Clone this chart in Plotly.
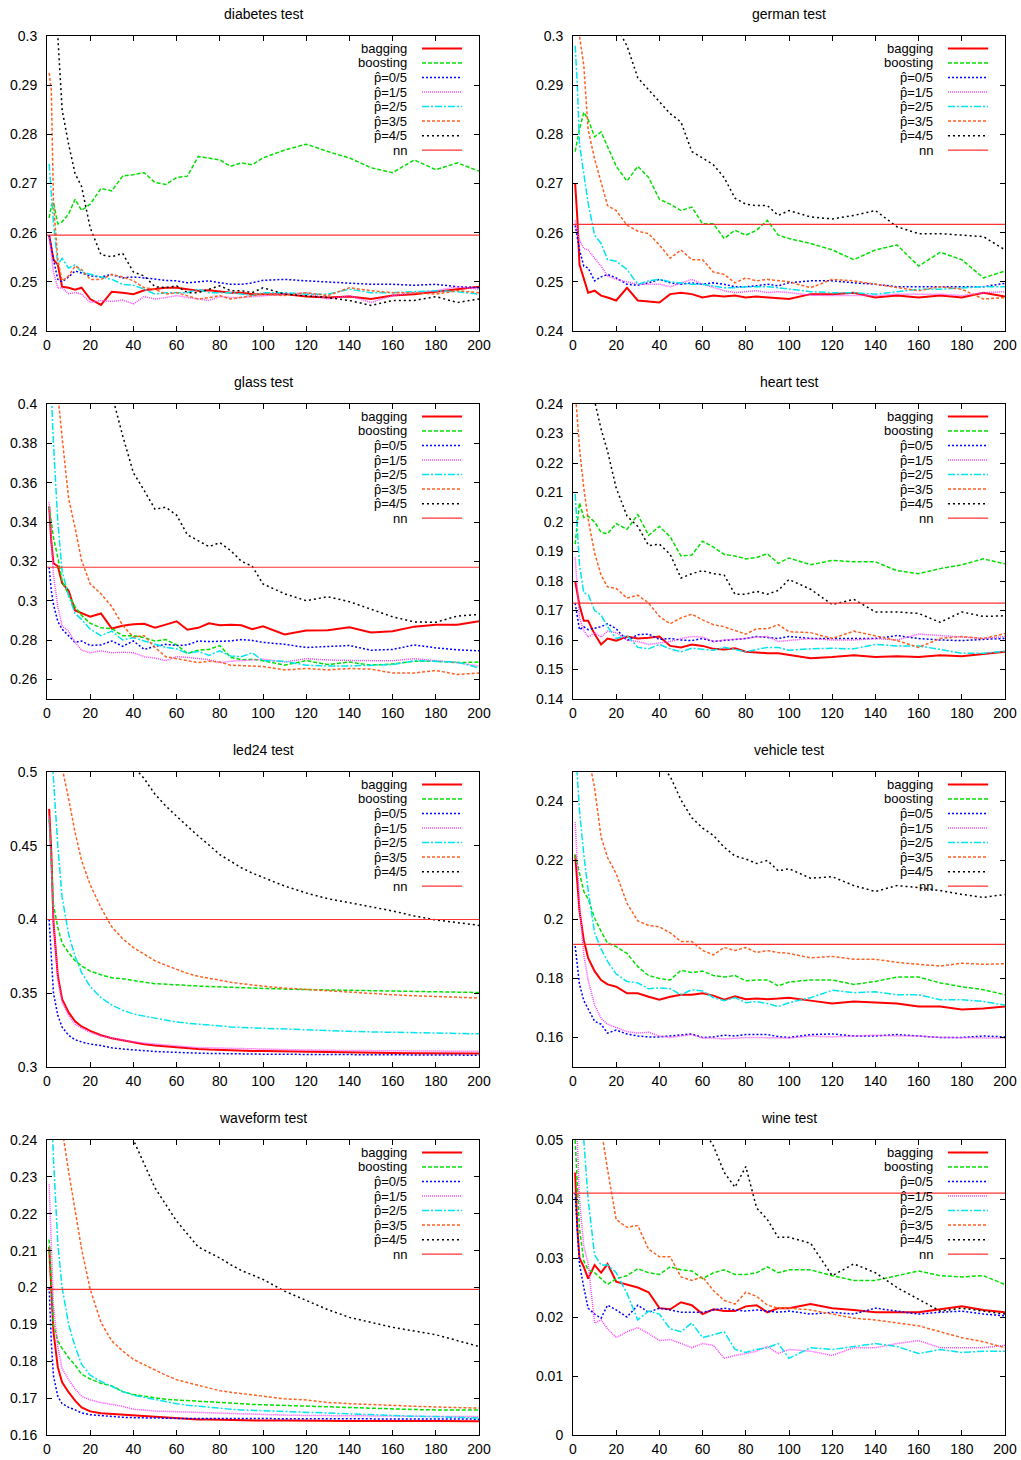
import plotly.graph_objects as go

# ---------------- data ----------------
X = [1, 2, 3, 5, 7, 10, 13, 16, 20, 25, 30, 35, 40, 45, 50, 55, 60, 65, 70, 75, 80, 85, 90, 95, 100,
     110, 120, 130, 140, 150, 160, 170, 180, 190, 200]

SERIES_NAMES = ["bagging", "boosting", "p\u0302=0/5", "p\u0302=1/5", "p\u0302=2/5", "p\u0302=3/5", "p\u0302=4/5", "nn"]
TITLES = ["diabetes test", "german test", "glass test", "heart test",
          "led24 test", "vehicle test", "waveform test", "wine test"]

diabetes_bagging = [0.2595,0.2565,0.2545,0.2535,0.2490,0.2488,0.2484,0.2488,0.2465,
                    0.2453,0.2480,0.2478,0.2475,0.2483,0.2485,0.2488,0.2488,
                    0.2485,0.2482,0.2483,0.2480,0.2478,0.2478,0.2475,0.2475,
                    0.2475,0.2470,0.2468,0.2470,0.2465,0.2472,0.2475,0.2480,0.2485,0.2490]
diabetes_boosting = [0.2630,0.2655,0.2662,0.2618,0.2622,0.2638,0.2668,0.2645,0.2658,
                     0.2690,0.2685,0.2715,0.2718,0.2722,0.2702,0.2698,0.2712,
                     0.2715,0.2755,0.2752,0.2748,0.2735,0.2742,0.2738,0.2752,
                     0.2768,0.2780,0.2765,0.2752,0.2732,0.2722,0.2748,0.2728,0.2742,0.2725]
diabetes_p0 = [0.2595,0.2570,0.2545,0.2505,0.2500,0.2510,0.2522,0.2518,0.2512,
               0.2510,0.2515,0.2508,0.2510,0.2508,0.2505,0.2503,0.2502,
               0.2498,0.2500,0.2502,0.2498,0.2495,0.2495,0.2498,0.2503,
               0.2505,0.2502,0.2500,0.2498,0.2495,0.2495,0.2493,0.2495,0.2490,0.2488]
diabetes_p1 = [0.2590,0.2555,0.2520,0.2487,0.2488,0.2476,0.2478,0.2475,0.2458,
               0.2462,0.2460,0.2463,0.2455,0.2470,0.2465,0.2468,0.2472,
               0.2468,0.2465,0.2462,0.2470,0.2468,0.2468,0.2470,0.2472,
               0.2475,0.2478,0.2465,0.2472,0.2458,0.2472,0.2478,0.2482,0.2490,0.2485]
diabetes_p2 = [0.2740,0.2685,0.2620,0.2535,0.2548,0.2528,0.2535,0.2520,0.2515,
               0.2510,0.2505,0.2495,0.2493,0.2485,0.2475,0.2478,0.2478,
               0.2478,0.2485,0.2478,0.2478,0.2478,0.2475,0.2472,0.2478,
               0.2478,0.2475,0.2475,0.2485,0.2478,0.2478,0.2480,0.2482,0.2480,0.2475]
diabetes_p3 = [0.2925,0.2890,0.2660,0.2545,0.2502,0.2512,0.2532,0.2525,0.2505,
               0.2505,0.2515,0.2510,0.2502,0.2488,0.2485,0.2475,0.2478,
               0.2472,0.2465,0.2468,0.2472,0.2465,0.2468,0.2472,0.2475,
               0.2472,0.2478,0.2472,0.2488,0.2482,0.2478,0.2478,0.2475,0.2482,0.2478]
diabetes_p4 = [0.3300,0.3200,0.3100,0.3000,0.2850,0.2780,0.2720,0.2694,0.2610,
               0.2555,0.2551,0.2558,0.2520,0.2512,0.2490,0.2488,0.2492,
               0.2478,0.2478,0.2485,0.2492,0.2482,0.2482,0.2478,0.2488,
               0.2475,0.2472,0.2468,0.2462,0.2452,0.2462,0.2462,0.2470,0.2458,0.2465]
diabetes_nn = 0.2595

german_bagging = [0.2700,0.2630,0.2535,0.2505,0.2478,0.2482,0.2472,0.2468,0.2462,
                  0.2488,0.2462,0.2460,0.2458,0.2475,0.2478,0.2475,0.2468,
                  0.2472,0.2470,0.2472,0.2468,0.2470,0.2468,0.2466,0.2465,
                  0.2475,0.2475,0.2478,0.2468,0.2472,0.2468,0.2472,0.2468,0.2478,0.2470]
german_boosting = [0.2765,0.2790,0.2810,0.2845,0.2830,0.2795,0.2805,0.2775,0.2735,
                   0.2705,0.2735,0.2712,0.2668,0.2658,0.2645,0.2652,0.2618,
                   0.2618,0.2588,0.2605,0.2595,0.2605,0.2625,0.2595,0.2588,
                   0.2578,0.2565,0.2545,0.2565,0.2575,0.2532,0.2560,0.2545,0.2508,0.2522]
german_p0 = [0.2615,0.2590,0.2565,0.2532,0.2528,0.2502,0.2510,0.2515,0.2508,
             0.2495,0.2493,0.2498,0.2505,0.2498,0.2495,0.2498,0.2495,
             0.2498,0.2495,0.2490,0.2490,0.2492,0.2495,0.2492,0.2498,
             0.2502,0.2502,0.2498,0.2495,0.2490,0.2490,0.2490,0.2490,0.2490,0.2497]
german_p1 = [0.2625,0.2605,0.2585,0.2568,0.2565,0.2548,0.2532,0.2512,0.2505,
             0.2500,0.2495,0.2495,0.2495,0.2490,0.2498,0.2505,0.2495,
             0.2488,0.2482,0.2478,0.2480,0.2482,0.2478,0.2480,0.2478,
             0.2473,0.2472,0.2472,0.2472,0.2475,0.2475,0.2475,0.2472,0.2478,0.2480]
german_p2 = [0.2980,0.2900,0.2780,0.2722,0.2660,0.2595,0.2578,0.2545,0.2542,
             0.2525,0.2495,0.2502,0.2505,0.2500,0.2498,0.2495,0.2495,
             0.2492,0.2488,0.2488,0.2490,0.2490,0.2490,0.2488,0.2485,
             0.2480,0.2478,0.2478,0.2475,0.2480,0.2485,0.2485,0.2488,0.2490,0.2490]
german_p3 = [0.3100,0.3050,0.3000,0.2940,0.2810,0.2750,0.2705,0.2655,0.2645,
             0.2615,0.2603,0.2598,0.2575,0.2548,0.2565,0.2545,0.2545,
             0.2520,0.2515,0.2498,0.2508,0.2502,0.2505,0.2502,0.2500,
             0.2488,0.2505,0.2502,0.2495,0.2488,0.2482,0.2490,0.2485,0.2465,0.2468]
german_p4 = [0.4000,0.3700,0.3550,0.3400,0.3300,0.3180,0.3120,0.3070,0.3020,
             0.2980,0.2915,0.2890,0.2865,0.2842,0.2825,0.2765,0.2752,
             0.2738,0.2712,0.2670,0.2658,0.2655,0.2655,0.2635,0.2645,
             0.2632,0.2628,0.2635,0.2645,0.2612,0.2598,0.2598,0.2595,0.2592,0.2565]
german_nn = 0.2617

glass_bagging = [0.3480,0.3300,0.3190,0.3175,0.3090,0.3050,0.2950,0.2935,0.2918,
                 0.2935,0.2858,0.2872,0.2880,0.2882,0.2862,0.2878,0.2895,
                 0.2852,0.2862,0.2885,0.2875,0.2878,0.2875,0.2855,0.2870,
                 0.2828,0.2848,0.2850,0.2865,0.2838,0.2845,0.2868,0.2878,0.2878,0.2895]
glass_boosting = [0.3480,0.3400,0.3320,0.3220,0.3100,0.3030,0.2970,0.2925,0.2885,
                  0.2862,0.2858,0.2822,0.2822,0.2812,0.2795,0.2802,0.2775,
                  0.2732,0.2748,0.2752,0.2772,0.2712,0.2700,0.2702,0.2695,
                  0.2672,0.2695,0.2675,0.2688,0.2672,0.2678,0.2692,0.2692,0.2685,0.2688]
glass_p0 = [0.3170,0.3050,0.2980,0.2895,0.2855,0.2822,0.2788,0.2795,0.2772,
            0.2775,0.2795,0.2768,0.2795,0.2752,0.2768,0.2778,0.2772,
            0.2775,0.2795,0.2792,0.2795,0.2795,0.2802,0.2798,0.2788,
            0.2778,0.2762,0.2768,0.2772,0.2748,0.2752,0.2775,0.2760,0.2750,0.2745]
glass_p1 = [0.3500,0.3320,0.3130,0.2970,0.2872,0.2845,0.2790,0.2748,0.2735,
            0.2745,0.2735,0.2738,0.2735,0.2715,0.2708,0.2695,0.2715,
            0.2712,0.2705,0.2700,0.2685,0.2692,0.2695,0.2698,0.2702,
            0.2688,0.2705,0.2698,0.2695,0.2695,0.2695,0.2705,0.2695,0.2685,0.2668]
glass_p2 = [0.4300,0.4000,0.3800,0.3400,0.3150,0.3025,0.2935,0.2905,0.2855,
            0.2822,0.2845,0.2800,0.2812,0.2795,0.2778,0.2762,0.2755,
            0.2732,0.2742,0.2722,0.2745,0.2718,0.2715,0.2735,0.2695,
            0.2692,0.2672,0.2668,0.2668,0.2672,0.2675,0.2695,0.2692,0.2688,0.2658]
glass_p3 = [0.4600,0.4450,0.4300,0.4050,0.3830,0.3520,0.3370,0.3205,0.3085,
            0.3035,0.2970,0.2875,0.2815,0.2822,0.2762,0.2715,0.2705,
            0.2695,0.2685,0.2692,0.2688,0.2672,0.2670,0.2668,0.2665,
            0.2648,0.2655,0.2648,0.2655,0.2652,0.2632,0.2632,0.2645,0.2625,0.2632]
glass_p4 = [0.5000,0.4950,0.4900,0.4800,0.4700,0.4600,0.4500,0.4400,0.4300,
            0.4150,0.4050,0.3840,0.3650,0.3560,0.3465,0.3475,0.3435,
            0.3335,0.3305,0.3275,0.3295,0.3255,0.3200,0.3175,0.3085,
            0.3035,0.3000,0.3020,0.2995,0.2955,0.2918,0.2892,0.2890,0.2922,0.2930]
glass_nn = 0.317

heart_bagging = [0.1800,0.1760,0.1718,0.1665,0.1665,0.1620,0.1585,0.1605,0.1598,
                 0.1612,0.1605,0.1608,0.1612,0.1580,0.1575,0.1585,0.1580,
                 0.1570,0.1568,0.1572,0.1560,0.1558,0.1555,0.1555,0.1550,
                 0.1538,0.1542,0.1548,0.1542,0.1545,0.1542,0.1548,0.1545,0.1552,0.1560]
heart_boosting = [0.1925,0.2000,0.2065,0.2015,0.2020,0.2000,0.1965,0.1960,0.1995,
                  0.1975,0.2025,0.1955,0.1985,0.1950,0.1885,0.1888,0.1935,
                  0.1915,0.1890,0.1885,0.1875,0.1880,0.1892,0.1860,0.1878,
                  0.1855,0.1870,0.1865,0.1865,0.1835,0.1825,0.1842,0.1855,0.1875,0.1858]
heart_p0 = [0.1725,0.1680,0.1635,0.1645,0.1635,0.1640,0.1645,0.1655,0.1638,
            0.1598,0.1618,0.1620,0.1602,0.1605,0.1600,0.1598,0.1605,
            0.1595,0.1598,0.1600,0.1605,0.1612,0.1608,0.1605,0.1612,
            0.1605,0.1605,0.1605,0.1605,0.1615,0.1605,0.1600,0.1598,0.1602,0.1605]
heart_p1 = [0.1880,0.1760,0.1675,0.1632,0.1610,0.1625,0.1610,0.1630,0.1625,
            0.1600,0.1595,0.1585,0.1590,0.1595,0.1605,0.1612,0.1610,
            0.1595,0.1600,0.1602,0.1605,0.1610,0.1612,0.1595,0.1598,
            0.1605,0.1600,0.1600,0.1605,0.1600,0.1620,0.1615,0.1610,0.1605,0.1612]
heart_p2 = [0.2095,0.1970,0.1855,0.1760,0.1755,0.1700,0.1685,0.1645,0.1605,
            0.1615,0.1575,0.1570,0.1585,0.1570,0.1560,0.1572,0.1568,
            0.1565,0.1575,0.1568,0.1560,0.1568,0.1575,0.1575,0.1565,
            0.1570,0.1572,0.1570,0.1585,0.1580,0.1580,0.1568,0.1555,0.1555,0.1562]
heart_p3 = [0.2450,0.2350,0.2250,0.2115,0.2010,0.1895,0.1820,0.1780,0.1775,
            0.1742,0.1752,0.1725,0.1680,0.1655,0.1675,0.1688,0.1668,
            0.1652,0.1645,0.1632,0.1620,0.1638,0.1638,0.1652,0.1628,
            0.1625,0.1605,0.1630,0.1615,0.1598,0.1575,0.1605,0.1612,0.1605,0.1622]
heart_p4 = [0.2800,0.2720,0.2650,0.2550,0.2480,0.2410,0.2315,0.2240,0.2115,
            0.2020,0.1985,0.1920,0.1925,0.1890,0.1810,0.1825,0.1835,
            0.1825,0.1820,0.1755,0.1755,0.1765,0.1755,0.1768,0.1805,
            0.1772,0.1720,0.1738,0.1695,0.1695,0.1690,0.1660,0.1695,0.1680,0.1682]
heart_nn = 0.1725

led24_bagging = [0.4750,0.4450,0.3980,0.3620,0.3460,0.3370,0.3310,0.3275,0.3245,
                 0.3215,0.3195,0.3180,0.3165,0.3155,0.3145,0.3138,0.3132,
                 0.3127,0.3122,0.3118,0.3115,0.3112,0.3110,0.3109,0.3108,
                 0.3105,0.3102,0.3100,0.3098,0.3097,0.3095,0.3094,0.3093,0.3092,0.3091]
led24_boosting = [0.4680,0.4400,0.4100,0.3945,0.3840,0.3775,0.3720,0.3685,0.3650,
                  0.3625,0.3605,0.3598,0.3585,0.3575,0.3565,0.3562,0.3560,
                  0.3553,0.3548,0.3545,0.3542,0.3538,0.3535,0.3532,0.3530,
                  0.3528,0.3525,0.3523,0.3520,0.3518,0.3515,0.3512,0.3510,0.3508,0.3505]
led24_p0 = [0.4000,0.3700,0.3500,0.3350,0.3270,0.3215,0.3185,0.3170,0.3155,
            0.3145,0.3130,0.3122,0.3115,0.3110,0.3105,0.3102,0.3098,
            0.3096,0.3094,0.3092,0.3090,0.3089,0.3088,0.3088,0.3087,
            0.3086,0.3085,0.3084,0.3083,0.3083,0.3082,0.3082,0.3081,0.3081,0.3080]
led24_p1 = [0.4700,0.4400,0.4000,0.3600,0.3440,0.3350,0.3290,0.3265,0.3235,
            0.3210,0.3195,0.3182,0.3170,0.3162,0.3155,0.3148,0.3142,
            0.3137,0.3132,0.3130,0.3128,0.3125,0.3122,0.3121,0.3120,
            0.3118,0.3115,0.3113,0.3112,0.3111,0.3110,0.3109,0.3108,0.3107,0.3106]
led24_p2 = [0.5500,0.5200,0.4950,0.4500,0.4150,0.3900,0.3750,0.3640,0.3545,
            0.3470,0.3420,0.3385,0.3360,0.3345,0.3330,0.3315,0.3305,
            0.3297,0.3290,0.3283,0.3278,0.3272,0.3268,0.3265,0.3262,
            0.3255,0.3250,0.3245,0.3242,0.3238,0.3235,0.3232,0.3230,0.3228,0.3225]
led24_p3 = [0.6000,0.5750,0.5500,0.5200,0.5030,0.4820,0.4590,0.4400,0.4235,
            0.4080,0.3950,0.3870,0.3810,0.3765,0.3720,0.3690,0.3660,
            0.3635,0.3615,0.3600,0.3585,0.3575,0.3565,0.3555,0.3548,
            0.3535,0.3525,0.3515,0.3505,0.3497,0.3490,0.3483,0.3478,0.3472,0.3468]
led24_p4 = [0.7500,0.7200,0.7000,0.6600,0.6300,0.6000,0.5750,0.5600,0.5450,
            0.5300,0.5200,0.5120,0.5040,0.4955,0.4849,0.4770,0.4700,
            0.4630,0.4566,0.4505,0.4440,0.4395,0.4351,0.4315,0.4284,
            0.4227,0.4180,0.4141,0.4114,0.4087,0.4058,0.4024,0.3997,0.3979,0.3960]
led24_nn = 0.400

vehicle_bagging = [0.2220,0.2120,0.2030,0.1930,0.1870,0.1825,0.1795,0.1780,0.1772,
                   0.1750,0.1750,0.1738,0.1728,0.1738,0.1745,0.1745,0.1750,
                   0.1742,0.1728,0.1740,0.1730,0.1732,0.1730,0.1732,0.1735,
                   0.1725,0.1715,0.1722,0.1718,0.1715,0.1705,0.1705,0.1695,0.1698,0.1705]
vehicle_boosting = [0.2220,0.2190,0.2150,0.2095,0.2070,0.2005,0.1960,0.1920,0.1908,
                    0.1885,0.1840,0.1810,0.1800,0.1795,0.1828,0.1820,0.1825,
                    0.1810,0.1805,0.1810,0.1792,0.1795,0.1795,0.1775,0.1788,
                    0.1795,0.1795,0.1780,0.1790,0.1805,0.1805,0.1785,0.1772,0.1762,0.1745]
vehicle_p0 = [0.1910,0.1840,0.1780,0.1725,0.1695,0.1655,0.1645,0.1615,0.1625,
              0.1612,0.1605,0.1602,0.1602,0.1605,0.1610,0.1612,0.1600,
              0.1602,0.1608,0.1605,0.1610,0.1610,0.1610,0.1603,0.1600,
              0.1610,0.1612,0.1605,0.1605,0.1610,0.1605,0.1600,0.1600,0.1605,0.1602]
vehicle_p1 = [0.2330,0.2200,0.2050,0.1880,0.1795,0.1710,0.1665,0.1645,0.1635,
              0.1620,0.1615,0.1618,0.1605,0.1600,0.1605,0.1610,0.1598,
              0.1598,0.1595,0.1598,0.1600,0.1600,0.1600,0.1598,0.1598,
              0.1605,0.1602,0.1605,0.1608,0.1605,0.1605,0.1600,0.1600,0.1600,0.1598]
vehicle_p2 = [0.2600,0.2470,0.2370,0.2220,0.2100,0.1955,0.1900,0.1858,0.1815,
              0.1790,0.1785,0.1765,0.1768,0.1765,0.1745,0.1762,0.1758,
              0.1735,0.1725,0.1735,0.1718,0.1722,0.1715,0.1705,0.1718,
              0.1735,0.1760,0.1752,0.1755,0.1745,0.1745,0.1728,0.1728,0.1722,0.1710]
vehicle_p3 = [0.3000,0.2900,0.2800,0.2650,0.2560,0.2445,0.2280,0.2210,0.2155,
              0.2055,0.1995,0.1980,0.1975,0.1955,0.1925,0.1925,0.1895,
              0.1880,0.1905,0.1895,0.1905,0.1888,0.1895,0.1888,0.1885,
              0.1870,0.1875,0.1865,0.1865,0.1855,0.1848,0.1842,0.1852,0.1848,0.1850]
vehicle_p4 = [0.3300,0.3250,0.3200,0.3100,0.3030,0.2950,0.2880,0.2820,0.2750,
              0.2680,0.2620,0.2570,0.2530,0.2485,0.2405,0.2345,0.2310,
              0.2285,0.2245,0.2215,0.2205,0.2190,0.2200,0.2165,0.2172,
              0.2140,0.2145,0.2115,0.2095,0.2115,0.2108,0.2098,0.2085,0.2075,0.2085]
vehicle_nn = 0.1916

waveform_bagging = [0.2110,0.1980,0.1880,0.1784,0.1743,0.1716,0.1693,0.1675,0.1664,
                    0.1659,0.1657,0.1655,0.1653,0.1650,0.1648,0.1646,0.1645,
                    0.1644,0.1642,0.1642,0.1641,0.1641,0.1640,0.1640,0.1639,
                    0.1639,0.1638,0.1638,0.1638,0.1638,0.1637,0.1638,0.1638,0.1638,0.1637]
waveform_boosting = [0.2130,0.2000,0.1900,0.1855,0.1835,0.1810,0.1790,0.1765,0.1752,
                     0.1740,0.1733,0.1718,0.1710,0.1705,0.1700,0.1697,0.1695,
                     0.1693,0.1692,0.1690,0.1688,0.1687,0.1685,0.1683,0.1682,
                     0.1680,0.1678,0.1677,0.1675,0.1672,0.1670,0.1669,0.1668,0.1668,0.1668]
waveform_p0 = [0.2000,0.1850,0.1760,0.1705,0.1685,0.1675,0.1668,0.1660,0.1655,
               0.1652,0.1650,0.1648,0.1647,0.1646,0.1646,0.1645,0.1645,
               0.1645,0.1645,0.1645,0.1645,0.1644,0.1644,0.1644,0.1644,
               0.1643,0.1643,0.1643,0.1643,0.1643,0.1643,0.1643,0.1643,0.1643,0.1643]
waveform_p1 = [0.2280,0.2100,0.1950,0.1840,0.1780,0.1750,0.1725,0.1705,0.1695,
               0.1688,0.1683,0.1678,0.1670,0.1667,0.1665,0.1664,0.1663,
               0.1661,0.1660,0.1659,0.1658,0.1657,0.1656,0.1656,0.1655,
               0.1654,0.1653,0.1653,0.1652,0.1652,0.1651,0.1651,0.1650,0.1650,0.1650]
waveform_p2 = [0.2600,0.2500,0.2350,0.2120,0.2000,0.1900,0.1840,0.1792,0.1762,
               0.1745,0.1732,0.1718,0.1708,0.1702,0.1695,0.1690,0.1685,
               0.1681,0.1678,0.1675,0.1672,0.1670,0.1668,0.1667,0.1665,
               0.1663,0.1660,0.1658,0.1656,0.1654,0.1652,0.1651,0.1650,0.1648,0.1646]
waveform_p3 = [0.3000,0.2850,0.2700,0.2550,0.2430,0.2315,0.2205,0.2105,0.1995,
               0.1905,0.1855,0.1828,0.1805,0.1790,0.1775,0.1762,0.1750,
               0.1742,0.1735,0.1727,0.1720,0.1716,0.1712,0.1708,0.1705,
               0.1698,0.1695,0.1688,0.1685,0.1682,0.1680,0.1678,0.1676,0.1675,0.1673]
waveform_p4 = [0.3500,0.3400,0.3350,0.3200,0.3100,0.3000,0.2900,0.2800,0.2700,
               0.2600,0.2520,0.2455,0.2400,0.2335,0.2270,0.2225,0.2180,
               0.2145,0.2110,0.2095,0.2080,0.2062,0.2046,0.2034,0.2022,
               0.1990,0.1964,0.1940,0.1919,0.1905,0.1892,0.1882,0.1872,0.1856,0.1840]
waveform_nn = 0.1995

wine_bagging = [0.0445,0.0350,0.0300,0.0285,0.0265,0.0288,0.0275,0.0290,0.0260,
                0.0255,0.0250,0.0242,0.0215,0.0213,0.0225,0.0220,0.0205,
                0.0213,0.0210,0.0210,0.0218,0.0220,0.0208,0.0215,0.0215,
                0.0222,0.0215,0.0212,0.0208,0.0208,0.0208,0.0213,0.0218,0.0212,0.0208]
wine_boosting = [0.0500,0.0420,0.0350,0.0295,0.0280,0.0275,0.0265,0.0255,0.0265,
                 0.0270,0.0282,0.0275,0.0272,0.0285,0.0280,0.0278,0.0265,
                 0.0275,0.0280,0.0272,0.0272,0.0275,0.0285,0.0275,0.0280,
                 0.0280,0.0270,0.0262,0.0262,0.0270,0.0278,0.0270,0.0268,0.0270,0.0255]
wine_p0 = [0.0410,0.0340,0.0290,0.0250,0.0215,0.0205,0.0198,0.0220,0.0212,
           0.0200,0.0220,0.0208,0.0215,0.0212,0.0208,0.0208,0.0208,
           0.0212,0.0215,0.0212,0.0210,0.0212,0.0210,0.0208,0.0210,
           0.0205,0.0208,0.0205,0.0215,0.0210,0.0205,0.0208,0.0210,0.0205,0.0202]
wine_p1 = [0.0600,0.0500,0.0400,0.0320,0.0290,0.0190,0.0195,0.0180,0.0165,
           0.0175,0.0182,0.0172,0.0160,0.0162,0.0155,0.0148,0.0155,
           0.0152,0.0130,0.0135,0.0138,0.0142,0.0150,0.0138,0.0145,
           0.0142,0.0135,0.0148,0.0148,0.0155,0.0160,0.0148,0.0148,0.0148,0.0152]
wine_p2 = [0.0700,0.0640,0.0580,0.0500,0.0400,0.0305,0.0288,0.0288,0.0275,
           0.0240,0.0195,0.0210,0.0205,0.0180,0.0175,0.0190,0.0165,
           0.0170,0.0175,0.0145,0.0140,0.0145,0.0148,0.0155,0.0130,
           0.0148,0.0145,0.0150,0.0155,0.0150,0.0138,0.0145,0.0140,0.0142,0.0142]
wine_p3 = [0.0900,0.0850,0.0800,0.0700,0.0640,0.0580,0.0520,0.0450,0.0365,
           0.0352,0.0355,0.0315,0.0302,0.0302,0.0268,0.0262,0.0268,
           0.0245,0.0228,0.0222,0.0242,0.0235,0.0220,0.0215,0.0215,
           0.0212,0.0205,0.0198,0.0195,0.0190,0.0185,0.0175,0.0165,0.0158,0.0148]
wine_p4 = [0.1500,0.1450,0.1400,0.1300,0.1250,0.1200,0.1130,0.1070,0.1000,
           0.0900,0.0800,0.0750,0.0700,0.0650,0.0600,0.0560,0.0520,
           0.0490,0.0445,0.0420,0.0455,0.0385,0.0365,0.0335,0.0335,
           0.0325,0.0270,0.0290,0.0275,0.0250,0.0230,0.0210,0.0215,0.0210,0.0205]
wine_nn = 0.041

PANELS = [
    [diabetes_bagging, diabetes_boosting, diabetes_p0, diabetes_p1, diabetes_p2, diabetes_p3, diabetes_p4, diabetes_nn],
    [german_bagging, german_boosting, german_p0, german_p1, german_p2, german_p3, german_p4, german_nn],
    [glass_bagging, glass_boosting, glass_p0, glass_p1, glass_p2, glass_p3, glass_p4, glass_nn],
    [heart_bagging, heart_boosting, heart_p0, heart_p1, heart_p2, heart_p3, heart_p4, heart_nn],
    [led24_bagging, led24_boosting, led24_p0, led24_p1, led24_p2, led24_p3, led24_p4, led24_nn],
    [vehicle_bagging, vehicle_boosting, vehicle_p0, vehicle_p1, vehicle_p2, vehicle_p3, vehicle_p4, vehicle_nn],
    [waveform_bagging, waveform_boosting, waveform_p0, waveform_p1, waveform_p2, waveform_p3, waveform_p4, waveform_nn],
    [wine_bagging, wine_boosting, wine_p0, wine_p1, wine_p2, wine_p3, wine_p4, wine_nn],
]
Y_RANGES = [[0.24, 0.30], [0.24, 0.30], [0.25, 0.40], [0.14, 0.24],
            [0.30, 0.50], [0.15, 0.25], [0.16, 0.24], [0.0, 0.05]]
Y_DTICK = [0.01, 0.01, 0.02, 0.01, 0.05, 0.02, 0.01, 0.01]

for p in PANELS:
    for s in p[:7]:
        assert len(s) == len(X), len(s)

# ---------------- styles ----------------
STYLES = [
    dict(color="#ff0000", width=2.0, dash="solid"),
    dict(color="#00e000", width=1.5, dash="4px,2px"),
    dict(color="#0000ff", width=1.5, dash="2px,2px"),
    dict(color="#ff44ff", width=1.5, dash="1px,1px"),
    dict(color="#00e5ee", width=1.5, dash="7px,2px,2px,2px"),
    dict(color="#ff6020", width=1.5, dash="3px,2px"),
    dict(color="#000000", width=1.5, dash="2px,3px"),
    dict(color="#ff3333", width=1.2, dash="solid"),
]

FONT = "Liberation Sans, Arial, Helvetica, sans-serif"
W, H = 1021, 1460
ML, MR, MT, MB = 47, 16, 36, 25
PW, PH = W - ML - MR, H - MT - MB
COL_PX = [(47, 479), (573, 1005)]
ROW_PX = [(36, 331), (404, 699), (772, 1067), (1140, 1435)]

fig = go.Figure()
layout = dict(
    template="none",
    width=W, height=H,
    margin=dict(l=ML, r=MR, t=MT, b=MB, pad=0, autoexpand=False),
    paper_bgcolor="white", plot_bgcolor="white",
    showlegend=False,
    font=dict(family=FONT, size=13, color="black"),
)
annotations = []
shapes = []

for k in range(8):
    r, c = k // 2, k % 2
    sfx = "" if k == 0 else str(k + 1)
    xd = [(COL_PX[c][0] - ML) / PW, (COL_PX[c][1] - ML) / PW]
    yd = [1 - (ROW_PX[r][1] - MT) / PH, 1 - (ROW_PX[r][0] - MT) / PH]
    common = dict(showline=True, linecolor="black", linewidth=1, mirror="ticks",
                  ticks="inside", ticklen=5, tickwidth=1, tickcolor="black",
                  showgrid=False, zeroline=False, automargin=False,
                  tickfont=dict(size=14, family=FONT, color="black"))
    layout["xaxis" + sfx] = dict(domain=xd, range=[0, 200], dtick=20, tick0=0,
                                 anchor="y" + sfx, ticklabelstandoff=1, **common)
    layout["yaxis" + sfx] = dict(domain=yd, range=Y_RANGES[k], dtick=Y_DTICK[k], tick0=0,
                                 tickformat="~g", anchor="x" + sfx, ticklabelstandoff=6, **common)
    panel = PANELS[k]
    for i in range(7):
        st = STYLES[i]
        fig.add_trace(go.Scatter(
            x=X, y=panel[i], mode="lines", name=SERIES_NAMES[i],
            line=dict(color=st["color"], width=st["width"], dash=st["dash"]),
            xaxis="x" + sfx, yaxis="y" + sfx, hoverinfo="skip"))
    # nn horizontal line
    st = STYLES[7]
    shapes.append(dict(type="line", xref="x" + sfx + " domain", x0=0, x1=1,
                       yref="y" + sfx, y0=panel[7], y1=panel[7],
                       line=dict(color=st["color"], width=st["width"])))
    # title
    annotations.append(dict(text=TITLES[k], xref="x" + sfx + " domain", x=0.5,
                            yref="y" + sfx + " domain", y=1, yanchor="middle", yshift=22,
                            showarrow=False, font=dict(size=14, family=FONT)))
    # legend (gnuplot-style: text right-aligned, sample on right)
    for i in range(8):
        yy = 0.958 - 0.0493 * i
        annotations.append(dict(text=SERIES_NAMES[i], xref="x" + sfx + " domain", x=0.838,
                                xanchor="right", yref="y" + sfx + " domain", y=yy,
                                yanchor="middle", showarrow=False,
                                font=dict(size=13, family=FONT)))
        st = STYLES[i]
        shapes.append(dict(type="line", xref="x" + sfx + " domain", x0=0.868, x1=0.961,
                           yref="y" + sfx + " domain", y0=yy, y1=yy,
                           line=dict(color=st["color"], width=st["width"], dash=st["dash"])))

layout["annotations"] = annotations
layout["shapes"] = shapes
fig.update_layout(**layout)
fig.write_html(
    "out.html",
    config={"displayModeBar": False},
    post_script="document.body.style.margin='0px';document.body.style.overflow='hidden';",
)
